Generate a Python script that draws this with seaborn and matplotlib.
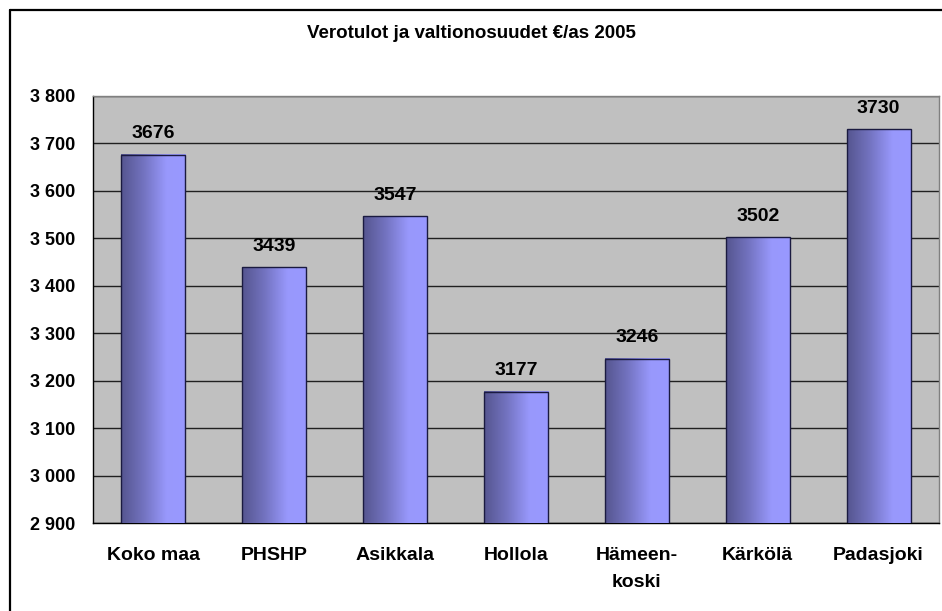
"""Verotulot ja valtionosuudet €/as 2005 - Excel-style gradient bar chart."""

import matplotlib
matplotlib.use("Agg")
import matplotlib.pyplot as plt
from matplotlib.colors import LinearSegmentedColormap
from matplotlib.lines import Line2D
from matplotlib.ticker import FuncFormatter, FixedLocator
import numpy as np
import pandas as pd
import seaborn as sns

categories = ["Koko maa", "PHSHP", "Asikkala", "Hollola", "Hämeen-\nkoski", "Kärkölä", "Padasjoki"]
values = [3676, 3439, 3547, 3177, 3246, 3502, 3730]
y_ticks = list(range(2900, 3801, 100))
title = "Verotulot ja valtionosuudet €/as 2005"

sns.set_style("white")
plt.rcParams["font.family"] = ["Liberation Sans", "DejaVu Sans"]
plt.rcParams["text.color"] = "black"
plt.rcParams["xtick.color"] = "black"
plt.rcParams["ytick.color"] = "black"

df = pd.DataFrame({"kunta": categories, "arvo": values})

fig = plt.figure(figsize=(9.42, 6.11), dpi=100)
ax = fig.add_axes([93 / 942, 1 - 523 / 611, (939 - 93) / 942, (523 - 96) / 611])
ax.set_facecolor("#C0C0C0")

sns.barplot(data=df, x="kunta", y="arvo", ax=ax, color="#9999FF", width=0.53,
            edgecolor="#1a1a40", linewidth=1, zorder=3)

ymin, ymax = y_ticks[0], y_ticks[-1]
ax.set_ylim(ymin, ymax)
ax.set_xlim(-0.5, len(categories) - 0.5)

# gradient fill, dark on the left to light on the right
cmap = LinearSegmentedColormap.from_list(
    "excel", [(0.0, "#55558F"), (0.35, "#7373C0"), (0.7, "#9898FC"), (1.0, "#9999FF")])
grad = np.linspace(0, 1, 256).reshape(1, -1)
for patch in ax.patches:
    x0 = patch.get_x()
    w = patch.get_width()
    top = patch.get_y() + patch.get_height()
    ax.imshow(grad, cmap=cmap, aspect="auto", extent=[x0, x0 + w, ymin, top],
              zorder=3.5, interpolation="bilinear")
    patch.set_facecolor("none")
    patch.set_zorder(4)
ax.set_xlim(-0.5, len(categories) - 0.5)
ax.set_ylim(ymin, ymax)

for patch, v in zip(ax.patches, values):
    ax.annotate(f"{v}", (patch.get_x() + patch.get_width() / 2, v),
                xytext=(0, 9), textcoords="offset points",
                ha="center", va="bottom", fontsize=14, fontweight="bold", zorder=5)

# grid
ax.set_yticks(y_ticks)
ax.yaxis.set_major_formatter(FuncFormatter(lambda v, _: f"{v:,.0f}".replace(",", " ")))
ax.grid(axis="y", color="#202020", linewidth=1, zorder=1)
ax.set_axisbelow(True)

# x ticks at category boundaries
ax.xaxis.set_minor_locator(FixedLocator(np.arange(-0.5, len(categories), 1.0)))
ax.tick_params(axis="x", which="major", length=0, pad=17, labelsize=14)
ax.tick_params(axis="x", which="minor", length=5, width=1, color="black", direction="out")
ax.tick_params(axis="y", length=5, width=1, color="black", direction="out", pad=8, labelsize=13)
for lbl in ax.get_xticklabels() + ax.get_yticklabels():
    lbl.set_fontweight("bold")
for lbl in ax.get_xticklabels():
    lbl.set_va("top")
    lbl.set_linespacing(1.8)

ax.set_xlabel("")
ax.set_ylabel("")

for side in ["left", "bottom"]:
    ax.spines[side].set_color("black")
    ax.spines[side].set_linewidth(1)
for side in ["top", "right"]:
    ax.spines[side].set_color("#808080")
    ax.spines[side].set_linewidth(1)

fig.text(0.5, 1 - 33 / 611, title, ha="center", va="center", fontsize=13.5, fontweight="bold")

# outer chart border (left and top visible, the rest cropped)
fig.add_artist(Line2D([9.5 / 942, 9.5 / 942], [0, 1 - 9.5 / 611], color="black", linewidth=1.6,
                      transform=fig.transFigure))
fig.add_artist(Line2D([9.5 / 942, 1], [1 - 9.5 / 611, 1 - 9.5 / 611], color="black", linewidth=1.6,
                      transform=fig.transFigure))

fig.savefig("out.png", dpi=100)
plt.close(fig)
